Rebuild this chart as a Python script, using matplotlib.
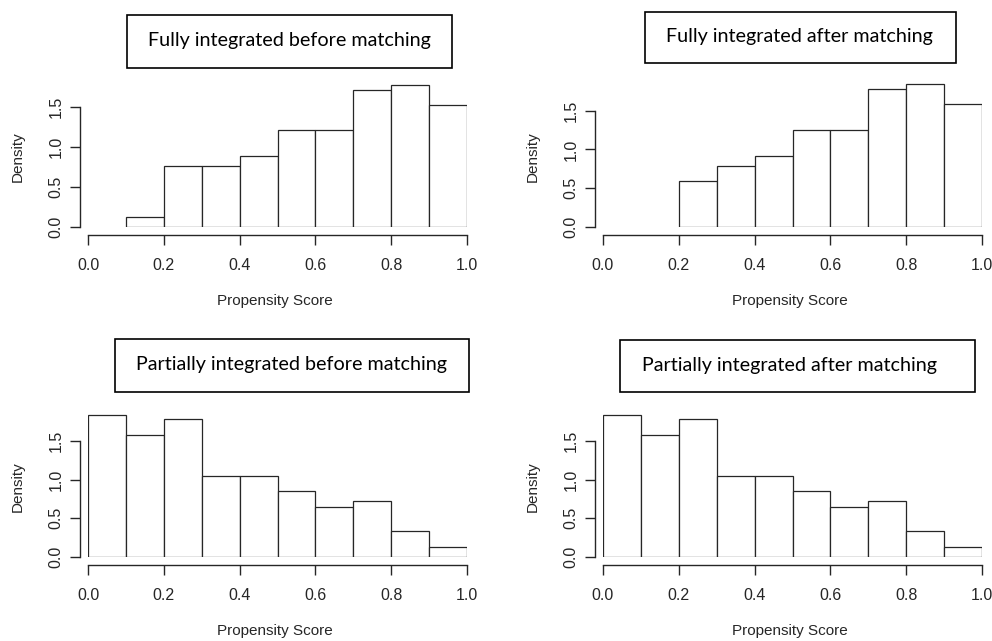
import numpy as np
import matplotlib.pyplot as plt
from matplotlib.patches import Rectangle

# bin edges shared by all four histograms
edges = [0.0, 0.1, 0.2, 0.3, 0.4, 0.5, 0.6, 0.7, 0.8, 0.9, 1.0]

# densities per bin (0 = empty bin, not drawn)
fully_before = [0.0, 0.12, 0.77, 0.77, 0.89, 1.22, 1.22, 1.72, 1.78, 1.53]
fully_after = [0.0, 0.0, 0.59, 0.79, 0.92, 1.25, 1.25, 1.78, 1.84, 1.58]
partial_before = [1.84, 1.58, 1.78, 1.05, 1.05, 0.85, 0.65, 0.73, 0.33, 0.13]
partial_after = [1.84, 1.58, 1.78, 1.05, 1.05, 0.85, 0.65, 0.73, 0.33, 0.13]

titles = ["Fully integrated before matching", "Fully integrated after matching",
          "Partially integrated before matching", "Partially integrated after matching"]
x_ticks = [0.0, 0.2, 0.4, 0.6, 0.8, 1.0]
y_ticks = [0.0, 0.5, 1.0, 1.5]

W, H = 992, 641
fig = plt.figure(figsize=(W / 100, H / 100), dpi=100, facecolor='white')

ink = '#262626'
axfont = ['Liberation Sans', 'DejaVu Sans']
titlefont = ['Lato', 'DejaVu Sans']


def fx(px):
    return px / W


def fy(py):
    return 1 - py / H


def hist_panel(x0, x1, y0, unit, dens, title, box, text_cx):
    # axes placed by pixel: x0/x1 = data 0/1, y0 = density 0, unit = px per density unit
    top = 2.0
    ax = fig.add_axes([fx(x0), fy(y0), (x1 - x0) / W, top * unit / H])
    ax.set_xlim(0, 1)
    ax.set_ylim(0, top)
    ax.patch.set_visible(False)

    left = [e for e, d in zip(edges[:-1], dens) if d > 0]
    heights = [d for d in dens if d > 0]
    ax.bar(left, heights, width=0.1, align='edge', facecolor='white',
           edgecolor=ink, linewidth=0.9)

    for s in ['top', 'right']:
        ax.spines[s].set_visible(False)
    ax.spines['bottom'].set_position(('outward', 6))
    ax.spines['left'].set_position(('outward', 6))
    ax.spines['bottom'].set_bounds(0, 1)
    ax.spines['left'].set_bounds(0, 1.5)
    for s in ['bottom', 'left']:
        ax.spines[s].set_color(ink)
        ax.spines[s].set_linewidth(1.0)

    ax.set_xticks(x_ticks)
    ax.set_xticklabels([f"{t:.1f}" for t in x_ticks], family=axfont, fontsize=11.5, color=ink)
    ax.set_yticks(y_ticks)
    ax.set_yticklabels([f"{t:.1f}" for t in y_ticks], family=axfont, fontsize=11.5,
                       color=ink, rotation=90, va='center')
    ax.tick_params(axis='x', length=7, width=1.0, color=ink, pad=9)
    ax.tick_params(axis='y', length=7, width=1.0, color=ink, pad=4.5)

    ax.set_xlabel("Propensity Score", family=axfont, fontsize=11, color=ink)
    ax.set_ylabel("Density", family=axfont, fontsize=11, color=ink)
    ax.xaxis.set_label_coords(fx((x0 + x1) / 2 - 3), fy(y0 + 67), transform=fig.transFigure)
    ax.yaxis.set_label_coords(fx(x0 - 63), fy(y0 - 70), transform=fig.transFigure)

    bx0, by0, bx1, by1 = box
    fig.patches.append(Rectangle((fx(bx0), fy(by1)), (bx1 - bx0) / W, (by1 - by0) / H,
                                 transform=fig.transFigure, facecolor='white',
                                 edgecolor='black', linewidth=1.2))
    fig.text(fx(text_cx), fy((by0 + by1) / 2 - 1), title, family=titlefont,
             fontsize=14.2, color='black', ha='center', va='center')
    return ax


hist_panel(88, 467, 227, 79.8, fully_before, titles[0], (127, 15, 452, 68), 289.5)
hist_panel(603, 982, 227, 77.6, fully_after, titles[1], (645, 12, 956, 63), 799.5)
hist_panel(88, 467, 557, 77.3, partial_before, titles[2], (115, 339, 469, 392), 292)
hist_panel(603, 982, 557, 77.3, partial_after, titles[3], (620, 340, 975, 392), 789)

fig.savefig("out.png", dpi=100, facecolor='white')
